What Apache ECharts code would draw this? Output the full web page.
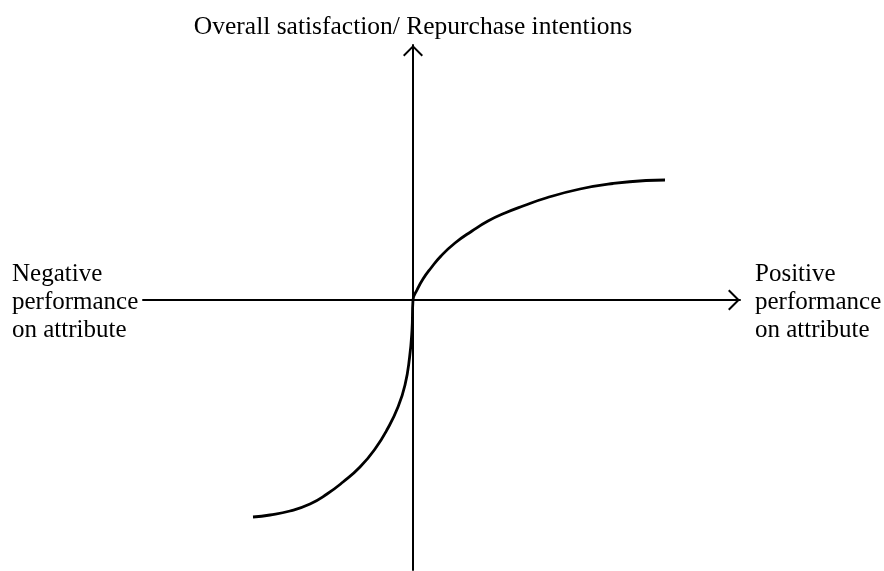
<!DOCTYPE html>
<html>
<head>
<meta charset="utf-8">
<script src="https://cdn.jsdelivr.net/npm/echarts@6/dist/echarts.min.js"></script>
<style>
html,body{margin:0;padding:0;background:#fff;}
#chart{width:884px;height:571px;}
</style>
</head>
<body>
<div id="chart"></div>
<script>
// Axis titles
const yAxisTitle = 'Overall satisfaction/ Repurchase intentions';
const negativeLabel = 'Negative\nperformance\non attribute';
const positiveLabel = 'Positive\nperformance\non attribute';

// Axis extents (attribute performance, satisfaction)
const xRange = [-270, 327];
const yRange = [-270, 255];

// Curve: performance on attribute (x) vs overall satisfaction (y)
const curveX = [-160, -143, -123, -103, -86, -70, -53, -38, -25, -15, -8, -3.5, -1, 0, 4, 10, 18, 28, 42, 59, 75, 92, 110, 133, 167, 200, 233, 252];
const curveY = [-217, -215, -211, -204, -194, -182, -167, -149, -128, -107, -85, -58, -30, 0, 10, 21, 32, 44, 57, 69, 79, 87, 94, 102, 111, 116.5, 119.5, 120];

const curveData = curveX.map((x, i) => [x, curveY[i]]);

const chevron = 'path://M0,10 L10,0 L20,10 L18.6,11.4 L10,2.8 L1.4,11.4 Z';
const serif = '"Liberation Serif", "Times New Roman", serif';

const chart = echarts.init(document.getElementById('chart'), null, {renderer: 'canvas'});
chart.setOption({
  animation: false,
  backgroundColor: '#fff',
  title: [
    {
      text: negativeLabel, left: 12, top: 260, padding: 0,
      textStyle: {fontFamily: serif, fontSize: 25, fontWeight: 'normal', color: '#000', lineHeight: 28}
    },
    {
      text: positiveLabel, left: 755, top: 260, padding: 0,
      textStyle: {fontFamily: serif, fontSize: 25, fontWeight: 'normal', color: '#000', lineHeight: 28}
    }
  ],
  grid: {left: 143, right: 144, top: 45, bottom: 1, containLabel: false},
  xAxis: {
    type: 'value', min: xRange[0], max: xRange[1],
    axisLine: {
      show: true, onZero: true,
      lineStyle: {color: '#000', width: 2},
      symbol: ['none', chevron], symbolSize: [21, 12], symbolOffset: [0, -6]
    },
    axisTick: {show: false}, axisLabel: {show: false}, splitLine: {show: false}
  },
  yAxis: {
    type: 'value', min: yRange[0], max: yRange[1],
    name: yAxisTitle, nameLocation: 'end', nameGap: 5,
    nameTextStyle: {fontFamily: serif, fontSize: 25.5, color: '#000'},
    axisLine: {
      show: true, onZero: true,
      lineStyle: {color: '#000', width: 2},
      symbol: ['none', chevron], symbolSize: [20, 11.5], symbolOffset: [0, -5.75]
    },
    axisTick: {show: false}, axisLabel: {show: false}, splitLine: {show: false}
  },
  series: [{
    type: 'line',
    data: curveData,
    symbol: 'none',
    smooth: 0.5,
    lineStyle: {color: '#000', width: 2.8},
    z: 5
  }]
});
</script>
</body>
</html>
